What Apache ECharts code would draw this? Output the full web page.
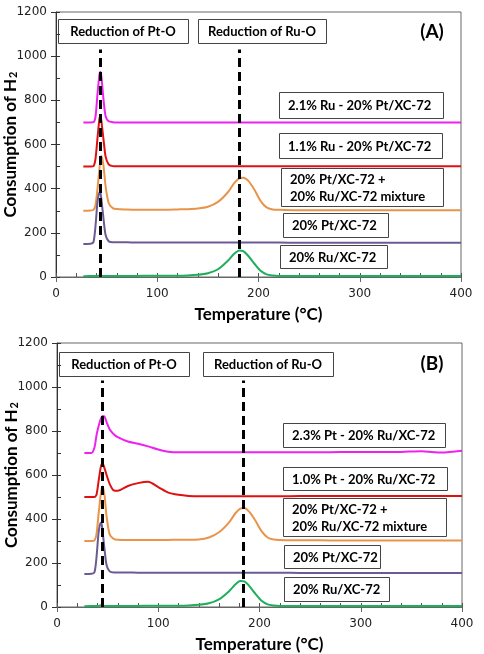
<!DOCTYPE html>
<html>
<head>
<meta charset="utf-8">
<script src="https://cdn.jsdelivr.net/npm/echarts@6/dist/echarts.min.js"></script>
<style>
  html, body { margin: 0; padding: 0; background: #fff; }
  #chart { width: 484px; height: 654px; }
</style>
</head>
<body>
<div id="chart"></div>
<script>
// temperature samples (°C), shared by every curve
const temps = [27, 34, 37, 39, 41, 43, 44, 45, 47, 49, 52, 56, 60, 70, 80, 90, 100, 110, 120, 130, 140,
  150, 160, 170, 176, 181, 185, 190, 196, 202, 208, 214, 220, 240, 260, 280, 300, 320, 340, 360, 380, 400]

// panel (A)
const ru21PtA = [700, 700, 701, 725, 830, 920, 930, 900, 800, 728, 705, 701, 700, 700, 700, 700, 700, 700, 700, 700, 700,
  700, 700, 700, 700, 700, 700, 700, 700, 700, 700, 700, 700, 700, 700, 700, 700, 700, 700, 700, 700, 700]
const ru11PtA = [500, 500, 502, 535, 630, 720, 728, 700, 620, 545, 510, 502, 501, 501, 501, 501, 501, 501, 501, 501, 501,
  501, 501, 501, 501, 501, 501, 501, 501, 501, 501, 501, 501, 501, 501, 501, 501, 501, 501, 501, 501, 501]
const mixA = [300, 301, 304, 325, 400, 495, 535, 548, 500, 410, 335, 312, 308, 306, 305, 305, 305, 305, 306, 307, 310,
  318, 340, 385, 425, 447, 450, 435, 395, 345, 315, 306, 304, 302, 302, 302, 302, 302, 302, 302, 302, 302]
const ptA = [150, 151, 158, 230, 340, 385, 378, 345, 260, 190, 162, 157, 157, 157, 156, 156, 156, 156, 156, 156, 156,
  156, 156, 156, 156, 156, 156, 156, 156, 156, 156, 156, 156, 155, 155, 155, 155, 155, 155, 155, 155, 155]
const ruA = [3, 4, 4, 5, 5, 8, 3, 6, 4, 5, 5, 5, 5, 5, 5, 6, 6, 6, 6, 7, 10,
  17, 35, 75, 105, 120, 117, 95, 60, 28, 12, 7, 5, 5, 5, 5, 5, 5, 5, 5, 5, 5]

// panel (B)
const pt23RuB = [700, 700, 725, 780, 820, 852, 862, 868, 865, 840, 808, 785, 772, 752, 742, 730, 716, 706, 703, 703, 703,
  703, 703, 703, 703, 703, 703, 703, 703, 703, 703, 703, 703, 703, 703, 704, 704, 704, 705, 708, 702, 710]
const pt10RuB = [500, 500, 500, 510, 570, 630, 648, 652, 630, 600, 560, 530, 528, 550, 563, 569, 545, 520, 510, 505, 503,
  503, 503, 503, 503, 503, 503, 503, 503, 503, 503, 503, 503, 504, 504, 504, 504, 505, 505, 505, 505, 505]
const mixB = [300, 300, 303, 330, 420, 505, 535, 548, 505, 410, 330, 310, 306, 305, 305, 305, 305, 305, 306, 306, 307,
  316, 340, 385, 425, 447, 450, 432, 392, 345, 316, 307, 305, 303, 303, 302, 302, 302, 302, 302, 302, 302]
const ptB = [150, 151, 158, 225, 335, 383, 378, 345, 260, 190, 162, 157, 157, 157, 156, 156, 156, 156, 156, 156, 156,
  156, 156, 156, 156, 156, 156, 156, 156, 156, 156, 156, 156, 155, 155, 155, 155, 155, 155, 155, 155, 155]
const ruB = [3, 4, 4, 5, 5, 8, 3, 6, 4, 5, 5, 5, 5, 5, 5, 6, 6, 6, 6, 7, 10,
  17, 35, 72, 102, 118, 116, 95, 60, 28, 12, 7, 5, 5, 5, 5, 5, 5, 5, 5, 5, 5]

// dashed guide lines: temperature of Pt-O / Ru-O reduction, and their top
const reductionA = [43.5, 180.5]
const reductionB = [44.4, 183.7]
const guideTop = 1030

const xTicks = [0, 100, 200, 300, 400]
const yTicks = [0, 200, 400, 600, 800, 1000, 1200]

const namesA = ['2.1% Ru - 20% Pt/XC-72', '1.1% Ru - 20% Pt/XC-72', '20% Pt/XC-72 + 20% Ru/XC-72 mixture', '20% Pt/XC-72', '20% Ru/XC-72']
const namesB = ['2.3% Pt - 20% Ru/XC-72', '1.0% Pt - 20% Ru/XC-72', '20% Pt/XC-72 + 20% Ru/XC-72 mixture', '20% Pt/XC-72', '20% Ru/XC-72']
const colors = ['#ee22ee', '#e01010', '#e8954a', '#6b5b95', '#1fae5c']

const chart = echarts.init(document.getElementById('chart'))

const labelFont = 'DejaVu Sans'
const boldFont = 'Lato'

function mainX(grid) {
  return {
    gridIndex: grid, type: 'value', min: xTicks[0], max: xTicks[xTicks.length - 1], interval: 100,
    name: 'Temperature (°C)', nameLocation: 'middle', nameGap: 29, nameMoveOverlap: false,
    nameTextStyle: { fontFamily: boldFont, fontWeight: 'bold', fontSize: 17, color: '#000' },
    axisLine: { lineStyle: { color: '#666', width: 1 } },
    axisTick: { inside: false, length: 5, lineStyle: { color: '#666' } },
    axisLabel: { fontFamily: labelFont, fontSize: 12, color: '#222', margin: 11, formatter: v => String(v) },
    splitLine: { show: false }
  }
}
function minorX(grid) {
  return {
    gridIndex: grid, type: 'value', min: 0, max: 400, interval: 20, position: 'bottom',
    axisLine: { show: false },
    axisTick: { inside: true, length: 4, lineStyle: { color: '#555' } },
    axisLabel: { show: false }, splitLine: { show: false }
  }
}
function mainY(grid) {
  return {
    gridIndex: grid, type: 'value', min: yTicks[0], max: yTicks[yTicks.length - 1], interval: 200,
    name: '{a|Consumption of H}{b|2}', nameLocation: 'middle', nameGap: 37, nameMoveOverlap: false,
    nameTextStyle: {
      rich: {
        a: { fontFamily: boldFont, fontWeight: 'bold', fontSize: 17, color: '#000', verticalAlign: 'bottom' },
        b: { fontFamily: boldFont, fontWeight: 'bold', fontSize: 11, color: '#000', verticalAlign: 'bottom', padding: [0, 0, 0, 1] }
      }
    },
    axisLine: { lineStyle: { color: '#333', width: 1 } },
    axisTick: { inside: false, length: 5, lineStyle: { color: '#333' } },
    axisLabel: { fontFamily: labelFont, fontSize: 12, color: '#222', margin: 9, formatter: v => String(v) },
    splitLine: { show: false }
  }
}
function minorY(grid) {
  return {
    gridIndex: grid, type: 'value', min: 0, max: 1200, interval: 100, position: 'left',
    axisLine: { show: false },
    axisTick: { inside: true, length: 4, lineStyle: { color: '#333' } },
    axisLabel: { show: false }, splitLine: { show: false }
  }
}

function curves(grid, names, sets, guides) {
  return sets.map((vals, i) => {
    const s = {
      name: names[i],
      type: 'line',
      xAxisIndex: grid * 2,
      yAxisIndex: grid * 2,
      data: temps.map((t, k) => [t, vals[k]]),
      showSymbol: false,
      smooth: 0.25,
      lineStyle: { color: colors[i], width: 2 },
      itemStyle: { color: colors[i] }
    }
    if (i === sets.length - 1) {
      s.markLine = {
        silent: true,
        symbol: 'none',
        label: { show: false },
        lineStyle: { color: '#000', width: 3, type: [9, 5] },
        data: guides.map(g => [{ coord: [g, 0] }, { coord: [g, guideTop] }])
      }
    }
    return s
  })
}

function box(x, y, w, h, text) {
  return {
    type: 'group',
    children: [
      { type: 'rect', shape: { x: x + 0.5, y: y + 0.5, width: w, height: h },
        style: { fill: '#fff', stroke: '#444', lineWidth: 1 } },
      { type: 'text', x: x + 9, y: y + h / 2 + 1,
        style: { text: text, fill: '#000', font: 'bold 13px Lato', align: 'left', verticalAlign: 'middle', lineHeight: 17 } }
    ]
  }
}
function centerBox(x, y, w, h, text) {
  return {
    type: 'group',
    children: [
      { type: 'rect', shape: { x: x + 0.5, y: y + 0.5, width: w, height: h },
        style: { fill: '#fff', stroke: '#444', lineWidth: 1 } },
      { type: 'text', x: x + w / 2, y: y + h / 2 + 1,
        style: { text: text, fill: '#000', font: 'bold 13px Lato', align: 'center', verticalAlign: 'middle' } }
    ]
  }
}
function panelTag(x, y, text) {
  return { type: 'text', x: x, y: y,
    style: { text: text, fill: '#000', font: 'bold 19px Lato', align: 'center', verticalAlign: 'middle' } }
}

const option = {
  animation: false,
  backgroundColor: '#fff',
  grid: [
    { left: 56, top: 12, width: 405, height: 265, show: true, borderColor: '#666', borderWidth: 1,
      backgroundColor: 'transparent', containLabel: false, outerBoundsMode: 'none' },
    { left: 57, top: 343, width: 405, height: 264, show: true, borderColor: '#666', borderWidth: 1,
      backgroundColor: 'transparent', containLabel: false, outerBoundsMode: 'none' }
  ],
  xAxis: [mainX(0), minorX(0), mainX(1), minorX(1)],
  yAxis: [mainY(0), minorY(0), mainY(1), minorY(1)],
  series: [
    ...curves(0, namesA, [ru21PtA, ru11PtA, mixA, ptA, ruA], reductionA),
    ...curves(1, namesB, [pt23RuB, pt10RuB, mixB, ptB, ruB], reductionB)
  ],
  graphic: [
    centerBox(58, 19, 130, 24, 'Reduction of Pt-O'),
    centerBox(198, 19, 128, 24, 'Reduction of Ru-O'),
    panelTag(432, 32, '(A)'),
    box(279, 92, 164, 26, namesA[0]),
    box(279, 133, 163, 25, namesA[1]),
    box(281, 168, 162, 38, '20% Pt/XC-72 +\n20% Ru/XC-72 mixture'),
    box(283, 213, 105, 24, namesA[3]),
    box(280, 245, 107, 23, namesA[4]),

    centerBox(59, 352, 130, 24, 'Reduction of Pt-O'),
    centerBox(203, 352, 130, 24, 'Reduction of Ru-O'),
    panelTag(432, 364, '(B)'),
    box(283, 423, 162, 24, namesB[0]),
    box(283, 467, 164, 23, namesB[1]),
    box(283, 498, 163, 38, '20% Pt/XC-72 +\n20% Ru/XC-72 mixture'),
    box(284, 545, 96, 23, namesB[3]),
    box(284, 577, 105, 24, namesB[4])
  ]
}

chart.setOption(option)
</script>
</body>
</html>
